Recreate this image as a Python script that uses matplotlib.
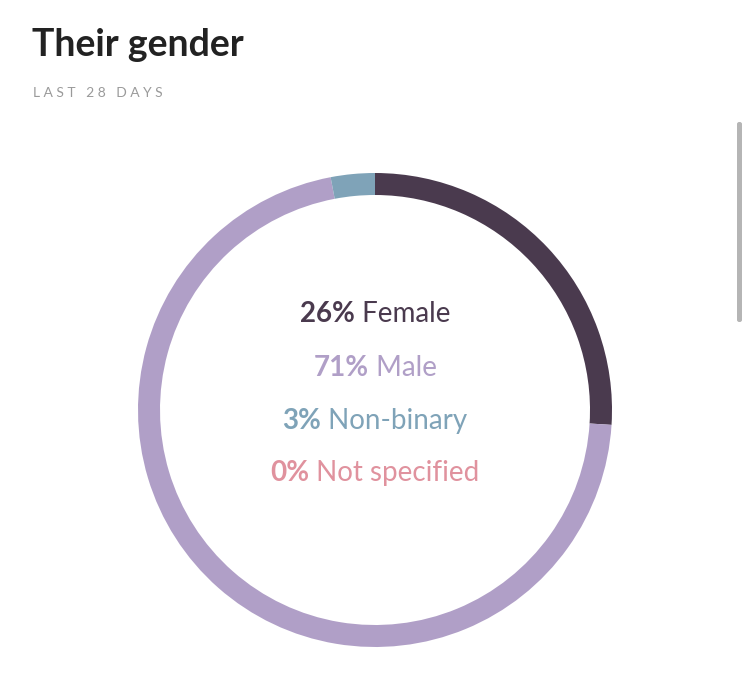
import matplotlib
matplotlib.use("Agg")
import matplotlib.pyplot as plt
from matplotlib.patches import FancyBboxPatch

labels = ["Female", "Male", "Non-binary", "Not specified"]
values = [26, 71, 3, 0]
ring_values = [26, 71, 3]
colors = ["#4a3a4e", "#b09fc7", "#7fa3b8", "#e0929e"]

W, H = 750, 695
fig = plt.figure(figsize=(7.5, 6.95), dpi=100)
fig.patch.set_facecolor("white")

fig.text(32/W, 1-45/H, "Their gender", fontsize=27, fontweight="bold", color="#222222",
         va="center", ha="left", family="Lato")
fig.text(33/W, 1-93/H, "L A S T   2 8   D A Y S", fontsize=10, color="#9a9a9a",
         va="center", ha="left", family="Lato")

# scrollbar
fig.patches.append(FancyBboxPatch((737/W, 1-322/H), 5/W, 200/H, boxstyle="round,pad=0,rounding_size=0.003",
                                  transform=fig.transFigure, color="#b5b5b5", lw=0))

cx, cy, R = 375, 410, 237
ax = fig.add_axes([(cx-240)/W, (H-cy-240)/H, 480/W, 480/H])
ax.set_xlim(-1, 1); ax.set_ylim(-1, 1); ax.axis("off")
ax.pie(ring_values, colors=colors[:3], startangle=90, counterclock=False,
       radius=R/240, wedgeprops=dict(width=22/240, lw=0))
ax.set_xlim(-1, 1); ax.set_ylim(-1, 1)

fig.canvas.draw()
r = fig.canvas.get_renderer()
ys = [314, 368, 421, 473]
for lab, v, c, y in zip(labels, values, colors, ys):
    t1 = fig.text(0, 0, f"{v}%", fontsize=20, fontweight="bold", family="Lato", color=c)
    t2 = fig.text(0, 0, f" {lab}", fontsize=20, family="Lato", color=c)
    w1 = t1.get_window_extent(r).width
    w2 = t2.get_window_extent(r).width
    x0 = cx - (w1 + w2) / 2
    t1.set_position((x0/W, 1-y/H)); t1.set_va("center")
    t2.set_position(((x0+w1)/W, 1-y/H)); t2.set_va("center")

fig.savefig("out.png", dpi=100)
